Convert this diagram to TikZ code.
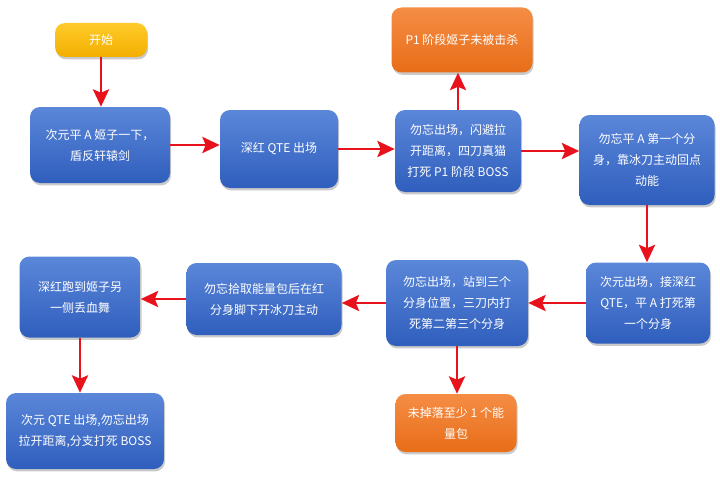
\documentclass[tikz,border=0pt]{standalone}
\usepackage{fontspec}
\setmainfont{Noto Sans CJK SC}
\usepackage{tikz}
\usetikzlibrary{arrows.meta}
\usetikzlibrary{shadows}
\definecolor{boxtop}{HTML}{5B87D9}
\definecolor{boxbot}{HTML}{2F5EBD}
\definecolor{starttop}{HTML}{FFCB2A}
\definecolor{startbot}{HTML}{F2AE00}
\definecolor{warntop}{HTML}{F58D45}
\definecolor{warnbot}{HTML}{E86D18}
\definecolor{flowred}{HTML}{E8121C}

\begin{document}
\begin{tikzpicture}[x=0.75pt,y=-0.75pt,
    stepbox/.style={rounded corners=7.5pt, top color=boxtop, bottom color=boxbot,
      text=white, align=center, inner sep=0pt,
      font=\fontsize{9}{15.75}\selectfont,
      drop shadow={shadow xshift=0.8pt, shadow yshift=-1.8pt, opacity=0.35, fill=black!60}},
    startbox/.style={stepbox, top color=starttop, bottom color=startbot},
    warnbox/.style={stepbox, top color=warntop, bottom color=warnbot},
    flow/.style={draw=flowred, line width=2.2pt,
      -{Stealth[length=13pt, width=12pt, inset=2.5pt, fill=flowred]}}]
    \useasboundingbox (0,0) rectangle (720,485);
    % Knoten
    \node[startbox, minimum width=69pt, minimum height=25.5pt] (start) at (101,40) {开始};
    \node[stepbox, minimum width=105pt, minimum height=57pt] (ciyuan) at (100,145)
      {次元平 A 姬子一下，\\盾反轩辕剑};
    \node[stepbox, minimum width=88.5pt, minimum height=58.5pt] (shenhong) at (279,149)
      {深红 QTE 出场};
    \node[stepbox, minimum width=94.5pt, minimum height=61.5pt] (wuwang) at (458,151)
      {勿忘出场，闪避拉\\开距离，四刀真猫\\打死 P1 阶段 BOSS};
    \node[warnbox, minimum width=105.75pt, minimum height=48.75pt] (p1kill) at (462,40)
      {P1 阶段姬子未被击杀};
    \node[stepbox, minimum width=101.25pt, minimum height=67.5pt] (fenshen) at (647,160)
      {勿忘平 A 第一个分\\身，靠冰刀主动回点\\动能};
    \node[stepbox, minimum width=93pt, minimum height=60.75pt] (jieqte) at (648,303)
      {次元出场，接深红\\QTE，平 A 打死第\\一个分身};
    \node[stepbox, minimum width=106.5pt, minimum height=64.5pt] (sandao) at (457,303)
      {勿忘出场，站到三个\\分身位置，三刀内打\\死第二第三个分身};
    \node[stepbox, minimum width=116.25pt, minimum height=54pt] (shiqu) at (264,299)
      {勿忘拾取能量包后在红\\分身脚下开冰刀主动};
    \node[stepbox, minimum width=90.75pt, minimum height=60.75pt] (xuewu) at (80,297)
      {深红跑到姬子另\\一侧丢血舞};
    \node[stepbox, minimum width=118.5pt, minimum height=57pt] (fenzhi) at (85,431)
      {次元 QTE 出场,勿忘出场\\拉开距离,分支打死 BOSS};
    \node[warnbox, minimum width=90.75pt, minimum height=43.5pt] (nengliang) at (456,423)
      {未掉落至少 1 个能\\量包};
    % Pfeile
    \draw[flow] (start.south) -- (start.south |- ciyuan.north);
    \draw[flow] (ciyuan.east) -- (ciyuan.east -| shenhong.west);
    \draw[flow] (shenhong.east) -- (shenhong.east -| wuwang.west);
    \draw[flow] (wuwang.north) -- (wuwang.north |- p1kill.south);
    \draw[flow] (wuwang.east) -- (wuwang.east -| fenshen.west);
    \draw[flow] (fenshen.south) -- (fenshen.south |- jieqte.north);
    \draw[flow] (jieqte.west) -- (jieqte.west -| sandao.east);
    \draw[flow] (sandao.west) -- (sandao.west -| shiqu.east);
    \draw[flow] (shiqu.west) -- (shiqu.west -| xuewu.east);
    \draw[flow] (xuewu.south) -- (xuewu.south |- fenzhi.north);
    \draw[flow] (sandao.south) -- (sandao.south |- nengliang.north);
  \end{tikzpicture}
\end{document}
